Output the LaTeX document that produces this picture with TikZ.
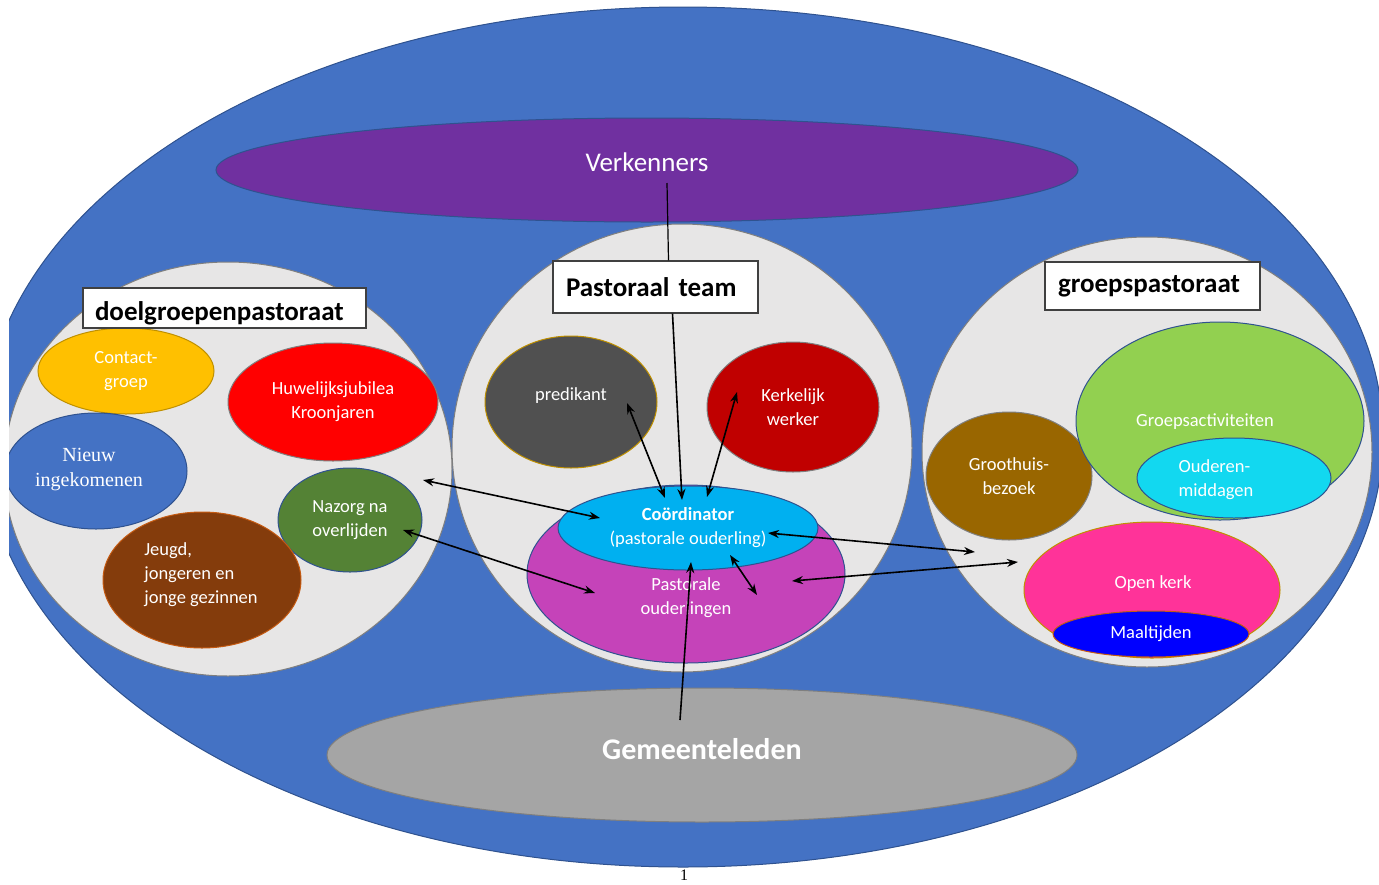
\documentclass[tikz,border=0pt]{standalone}
\usepackage{fontspec}
\setmainfont{Carlito}
\newfontfamily\timesface{Liberation Serif}
\usetikzlibrary{shapes.geometric,arrows.meta,calc}

\definecolor{fieldblue}{HTML}{4472C4}
\definecolor{edgeblue}{HTML}{2F528F}
\definecolor{edgegray}{HTML}{7F7F7F}
\definecolor{edgegold}{HTML}{BF9000}
\definecolor{edgerust}{HTML}{C55A11}
\definecolor{circlegray}{HTML}{E7E6E6}
\newcommand{\lbl}{\fontsize{18.5}{24}\selectfont}
\newcommand{\ttl}{\fontsize{27}{30}\selectfont\bfseries}

\tikzset{blob/.style={ellipse, inner sep=0pt, line width=1pt, text=white, align=center, font=\lbl},
         titlebox/.style={draw=black!75, fill=white, line width=1.2pt, inner ysep=0pt, inner xsep=12pt, align=left, font=\ttl},
         link/.style={line width=1.6pt, {Stealth[length=11pt,width=8pt]}-{Stealth[length=11pt,width=8pt]}},
         oneway/.style={line width=1.6pt, -{Stealth[length=11pt,width=8pt]}}}

\begin{document}
\begin{tikzpicture}[x=1pt,y=-1pt]
      \useasboundingbox (0,0) rectangle (1379,884);
      \begin{scope}
      \clip (9,0) rectangle (1379,884);
      % outer field
      \node[blob, fill=fieldblue, draw=edgeblue, minimum width=1400, minimum height=860] (field) at (683,437) {};
      \node[blob, fill={rgb,255:red,112;green,48;blue,160}, draw=edgeblue, minimum width=862, minimum height=104] (verk) at (647,170) {};
      \node[blob, fill={rgb,255:red,165;green,165;blue,165}, draw=edgegray, minimum width=750, minimum height=134] (gem) at (702,755) {};
      % three circles
      \node[blob, fill=circlegray, draw=edgegray, minimum width=448, minimum height=414] (doel) at (228,469) {};
      \node[blob, fill=circlegray, draw=edgegray, minimum width=460, minimum height=448] (team-c) at (682,448) {};
      \node[blob, fill=circlegray, draw=edgegray, minimum width=450, minimum height=430] (groep) at (1147,452) {};
      % doelgroepen
      \node[blob, fill={rgb,255:red,255;green,192;blue,0}, draw=edgegold, minimum width=176, minimum height=86] (contact) at (126,371) {Contact-\\groep};
      \node[blob, fill=red, draw=edgegray, minimum width=210, minimum height=118] (huw) at (333,402) {Huwelijksjubilea\\Kroonjaren};
      \node[blob, fill=fieldblue, draw=edgeblue, minimum width=182, minimum height=116] (nieuw) at (96,471) {};
      \node[blob, fill={rgb,255:red,84;green,130;blue,53}, draw=edgeblue, minimum width=144, minimum height=104] (nazorg) at (350,520) {Nazorg na\\overlijden};
      \node[blob, fill={rgb,255:red,132;green,60;blue,12}, draw=edgerust, minimum width=198, minimum height=136] (jeugd) at (202,580) {};
      \end{scope}
      \node[text=white, align=center, font=\timesface\fontsize{20}{25}\selectfont] (nieuw-t) at (89,470) {Nieuw\\ingekomenen};
      \node[text=white, align=left, font=\lbl] (jeugd-t) at (201,575) {Jeugd,\\jongeren en\\jonge gezinnen};
      % pastoraal team
      \node[blob, fill={rgb,255:red,80;green,80;blue,80}, draw=edgegold, minimum width=172, minimum height=132] (pred) at (571,402) {};
      \node[text=white, font=\lbl] (pred-t) at (571,396) {predikant};
      \node[blob, fill={rgb,255:red,192;green,0;blue,0}, draw=edgegray, minimum width=172, minimum height=130] (kerkw) at (793,407) {Kerkelijk\\werker};
      \node[blob, fill={rgb,255:red,197;green,67;blue,185}, draw=edgeblue, minimum width=318, minimum height=178] (past) at (686,574) {};
      \node[text=white, align=center, font=\lbl] (past-t) at (686,598) {Pastorale\\ouderlingen};
      \node[blob, fill={rgb,255:red,0;green,176;blue,240}, draw=edgeblue, minimum width=260, minimum height=84] (coord) at (688,528) {\textbf{Coördinator}\\(pastorale ouderling)};
      % groepspastoraat
      \node[blob, fill={rgb,255:red,153;green,102;blue,0}, draw=edgegray, minimum width=166, minimum height=128] (groot) at (1009,476) {Groothuis-\\bezoek};
      \node[blob, fill={rgb,255:red,146;green,208;blue,80}, draw=edgeblue, minimum width=288, minimum height=198] (gact) at (1220,421) {};
      \node[text=white, font=\lbl] (gact-t) at (1205,422) {Groepsactiviteiten};
      \node[blob, fill={rgb,255:red,18;green,216;blue,240}, draw=edgeblue, minimum width=194, minimum height=80] (oud) at (1234,478) {};
      \node[text=white, align=left, font=\lbl] (oud-t) at (1216,480) {Ouderen-\\middagen};
      \node[blob, fill={rgb,255:red,255;green,51;blue,153}, draw=edgegold, minimum width=256, minimum height=136] (open) at (1152,590) {};
      \node[text=white, font=\lbl] (open-t) at (1153,584) {Open kerk};
      \node[blob, fill=blue, draw=edgerust, minimum width=196, minimum height=46] (maal) at (1151,634) {Maaltijden};
      % titles
      \node[text=white, font=\fontsize{27}{30}\selectfont] (verk-t) at (647,162) {Verkenners};
      \node[text=white, font=\fontsize{30}{34}\selectfont\bfseries] (gem-t) at (702,749) {Gemeenteleden};
      \node[titlebox, text width=259, minimum height=40, text height=24, text depth=0] (doel-b) at (224.5,308) {doelgroepenpastoraat};
      \node[titlebox, text width=179, inner xsep=13pt, minimum height=52] (team) at (655.5,287) {Pastoraal team};
      \node[titlebox, text width=189, inner xsep=13pt, minimum height=48, text depth=4] (groep-b) at (1152.5,286) {groepspastoraat};
      % connectors
      \draw[line width=1.2pt] ($(verk)+(20,13)$) -- ($(team.north)+(13,0)$);
      \draw[oneway] ($(team.south)+(17,0)$) -- ($(coord)+(-6,-28)$);
      \draw[link] ($(pred)+(56,1)$) -- ($(coord)+(-23,-30)$);
      \draw[link] ($(kerkw)+(-56,-15)$) -- ($(coord)+(19,-31)$);
      \draw[link] ($(doel)+(195,11)$) -- ($(coord)+(-88,-10)$);
      \draw[link] ($(nazorg)+(53,10)$) -- ($(past)+(-91,19)$);
      \draw[link] ($(coord)+(42,27)$) -- ($(past)+(71,21)$);
      \draw[link] ($(coord)+(80,5)$) -- ($(groep)+(-172,100)$);
      \draw[link] ($(past)+(106,7)$) -- ($(open)+(-134,-28)$);
      \draw[oneway] ($(gem)+(-22,-35)$) -- ($(coord)+(3,34)$);
      % page number
      \node[inner sep=0pt, font=\timesface\fontsize{16}{18}\selectfont] (page) at (684,875) {1};
\end{tikzpicture}
\end{document}
